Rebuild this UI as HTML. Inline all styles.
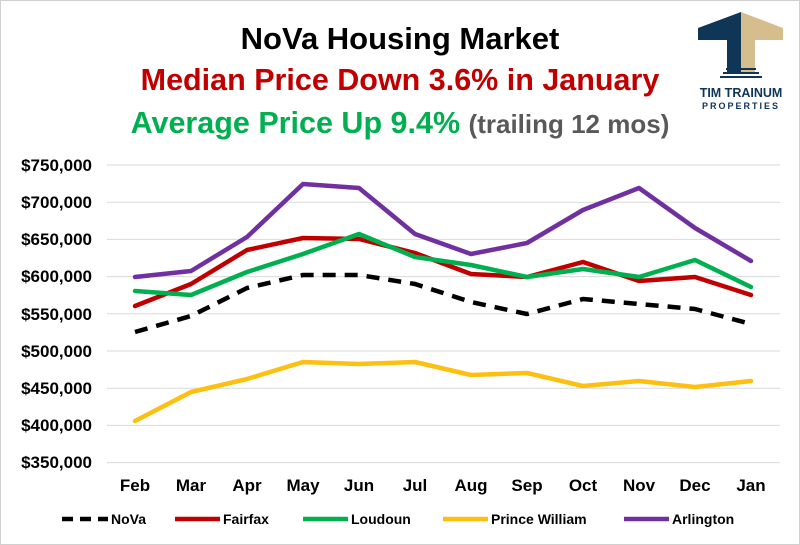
<!DOCTYPE html>
<html><head><meta charset="utf-8"><style>
body{margin:0;background:#fff;}
.wrap{position:relative;width:798px;height:543px;border:1px solid #d0d0d0;overflow:hidden;font-family:"Liberation Sans",Arial,sans-serif;}
</style></head><body><div class="wrap">
<svg width="798" height="543" viewBox="1 1 798 543" xmlns="http://www.w3.org/2000/svg" font-family="Liberation Sans, Arial, sans-serif">
<text x="400" y="49" text-anchor="middle" font-size="31" font-weight="bold" fill="#000">NoVa Housing Market</text>
<text x="400" y="90" text-anchor="middle" font-size="30.5" font-weight="bold" fill="#c00000">Median Price Down 3.6% in January</text>
<text x="400" y="133" text-anchor="middle" font-size="30.5" font-weight="bold" fill="#00b050">Average Price Up 9.4% <tspan fill="#595959" font-size="26">(trailing 12 mos)</tspan></text>
<!-- logo -->
<g>
<polygon points="698,28 741,12 741,72 727,72 727,40 698,40" fill="#0f3557"/>
<polygon points="741,12 783,28 783,40 755,40 755,72 741,72" fill="#d6bd8e"/>
<rect x="726" y="68" width="30" height="2" fill="#0f3557"/>
<rect x="723" y="72" width="36" height="2" fill="#0f3557"/>
<rect x="720" y="76" width="42" height="2" fill="#0f3557"/>
<text x="741" y="97" text-anchor="middle" font-size="12.5" font-weight="bold" fill="#0f3557">TIM TRAINUM</text>
<text x="741" y="109" text-anchor="middle" font-size="9" font-weight="bold" fill="#0f3557" letter-spacing="2">PROPERTIES</text>
</g>
<g stroke="#d9d9d9" stroke-width="1">
<line x1="107" x2="780" y1="165" y2="165"/><line x1="107" x2="780" y1="202.2" y2="202.2"/>
<line x1="107" x2="780" y1="239.4" y2="239.4"/><line x1="107" x2="780" y1="276.6" y2="276.6"/>
<line x1="107" x2="780" y1="313.8" y2="313.8"/><line x1="107" x2="780" y1="351" y2="351"/>
<line x1="107" x2="780" y1="388.2" y2="388.2"/><line x1="107" x2="780" y1="425.4" y2="425.4"/>
<line x1="107" x2="780" y1="462.6" y2="462.6"/>
</g>
<g font-size="17" font-weight="bold" fill="#000" text-anchor="end">
<text x="92" y="171">$750,000</text><text x="92" y="208">$700,000</text><text x="92" y="245">$650,000</text>
<text x="92" y="282">$600,000</text><text x="92" y="320">$550,000</text><text x="92" y="357">$500,000</text>
<text x="92" y="394">$450,000</text><text x="92" y="431">$400,000</text><text x="92" y="468">$350,000</text>
</g>
<g font-size="17" font-weight="bold" fill="#000" text-anchor="middle">
<text x="135" y="491">Feb</text><text x="191" y="491">Mar</text><text x="247" y="491">Apr</text><text x="303" y="491">May</text>
<text x="359" y="491">Jun</text><text x="415" y="491">Jul</text><text x="471" y="491">Aug</text><text x="527" y="491">Sep</text>
<text x="583" y="491">Oct</text><text x="639" y="491">Nov</text><text x="695" y="491">Dec</text><text x="751" y="491">Jan</text>
</g>
<g fill="none" stroke-width="4.5" stroke-linejoin="round" stroke-linecap="round">
<polyline stroke="#fdc010" points="135,421 191,392 247,379 303,362 359,364 415,362 471,375 527,373 583,386 639,381 695,387 751,381"/>
<polyline stroke="#c00000" points="135,306 191,284 247,250 303,238 359,239 415,253 471,274 527,277 583,262 639,281 695,277 751,295"/>
<polyline stroke="#00b050" points="135,291 191,295 247,272 303,254 359,234 415,257 471,265 527,277 583,269 639,277 695,260 751,287"/>
<polyline stroke="#7030a0" points="135,277 191,271 247,237 303,184 359,188 415,234 471,254 527,243 583,210 639,188 695,228 751,261"/>
<polyline stroke="#000" stroke-dasharray="13,9" stroke-linecap="butt" points="135,332 191,316 247,288 303,275 359,275 415,284 471,302 527,314 583,299 639,304 695,309 751,324"/>
</g>
<g font-size="14" font-weight="bold" fill="#000">
<line x1="62" x2="108" y1="519" y2="519" stroke="#000" stroke-width="4.5" stroke-dasharray="11,7"/>
<text x="111" y="524">NoVa</text>
<line x1="175" x2="220" y1="519" y2="519" stroke="#c00000" stroke-width="4.5"/>
<text x="223" y="524">Fairfax</text>
<line x1="303" x2="348" y1="519" y2="519" stroke="#00b050" stroke-width="4.5"/>
<text x="351" y="524">Loudoun</text>
<line x1="443" x2="488" y1="519" y2="519" stroke="#fdc010" stroke-width="4.5"/>
<text x="491" y="524">Prince William</text>
<line x1="624" x2="669" y1="519" y2="519" stroke="#7030a0" stroke-width="4.5"/>
<text x="672" y="524">Arlington</text>
</g>
</svg></div></body></html>
